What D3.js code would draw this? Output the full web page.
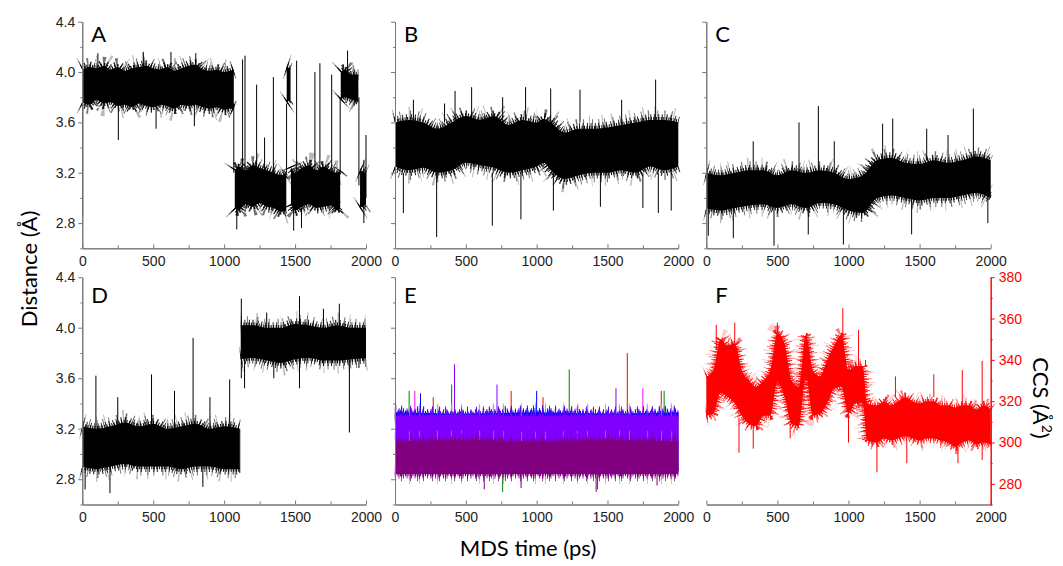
<!DOCTYPE html>
<html>
<head>
<meta charset="utf-8">
<script src="https://cdn.jsdelivr.net/npm/d3@7"></script>
<style>
  body { margin: 0; background: #fff; }
  .axis path, .axis line { stroke: #777; }
  .axis text { fill: #222; font-size: 14px; font-family: "Liberation Sans", Arial, sans-serif; }
  .axis.red path, .axis.red line { stroke: #ff0000; }
  .axis.red text { fill: #ff0000; }
  .title { font-family: Lato, "Open Sans", sans-serif; font-size: 22px; fill: #000; }
</style>
</head>
<body>
<svg id="chart" width="1063" height="566"></svg>
<script>
// ticks
const timeTicks = [0, 500, 1000, 1500, 2000];
const timeMinor = [250, 750, 1250, 1750];
const distTicks = [2.8, 3.2, 3.6, 4.0, 4.4];
const distMinor = [2.6, 3.0, 3.4, 3.8, 4.2];
const ccsTicks = [280, 300, 320, 340, 360, 380];
const ccsMinor = [270, 290, 310, 330, 350, 370];

// bands of the traces: [time ps, low, high] of the dense core, null = gap
const bandA = [
  [0, 3.76, 4.02], [50, 3.74, 4.04], [100, 3.78, 4.03], [150, 3.75, 4.05], [200, 3.76, 4.02],
  [250, 3.73, 4.04], [300, 3.74, 4.01], [350, 3.72, 4.03], [400, 3.75, 4.04], [450, 3.73, 4.05],
  [500, 3.72, 4.03], [550, 3.74, 4.02], [600, 3.73, 4.04], [650, 3.71, 4.01], [700, 3.74, 4.03],
  [750, 3.73, 4.05], [800, 3.74, 4.06], [850, 3.72, 4.02], [900, 3.71, 4.01], [950, 3.72, 4.02],
  [1000, 3.70, 4.00], [1040, 3.71, 4.01], [1068, 3.70, 4.02], [1071, null, null],
  [1075, 2.92, 3.22], [1100, 2.90, 3.25], [1150, 2.95, 3.22], [1200, 2.93, 3.26], [1250, 2.96, 3.24],
  [1300, 2.93, 3.22], [1350, 2.92, 3.20], [1400, 2.89, 3.18], [1438, 2.90, 3.20], [1439, null, null],
  [1441, 3.76, 4.04], [1468, 3.78, 4.03], [1469, null, null],
  [1471, 2.95, 3.25], [1500, 2.90, 3.20], [1550, 2.93, 3.24], [1600, 2.95, 3.26], [1650, 2.92, 3.22],
  [1700, 2.93, 3.25], [1750, 2.94, 3.22], [1800, 2.90, 3.20], [1818, 2.92, 3.22], [1820, null, null],
  [1822, 3.78, 4.00], [1850, 3.80, 4.02], [1900, 3.78, 3.98], [1946, 3.76, 3.98], [1950, null, null],
  [1958, 2.92, 3.22], [2000, 2.95, 3.20]
];
const spikesA = [
  [2, 2.85, 3.8], [254, 3.46, 3.75], [520, 3.55, 3.75], [790, 3.57, 3.75], [110, 4.0, 4.15],
  [430, 4.0, 4.16], [625, 4.0, 4.16], [800, 4.0, 4.15], [1068, 3.2, 3.75], [1089, 2.75, 2.95],
  [1130, 3.2, 4.1], [1147, 3.2, 4.13], [1229, 3.2, 3.9], [1285, 3.2, 3.48], [1347, 3.2, 3.96],
  [1440, 3.2, 3.75], [1490, 2.74, 2.92], [1511, 3.2, 4.09], [1545, 2.76, 2.92], [1640, 3.2, 4.0],
  [1675, 3.2, 4.07], [1758, 3.2, 3.98], [1818, 3.2, 3.8], [1870, 4.0, 4.17], [1950, 3.1, 3.8],
  [1985, 2.8, 3.3], [2000, 3.0, 3.5]
];

const bandB = [
  [0, 3.25, 3.60], [100, 3.22, 3.62], [200, 3.24, 3.60], [300, 3.20, 3.55], [400, 3.22, 3.60],
  [500, 3.28, 3.65], [600, 3.26, 3.62], [700, 3.24, 3.65], [800, 3.20, 3.58], [900, 3.22, 3.62],
  [1000, 3.25, 3.60], [1050, 3.28, 3.63], [1100, 3.22, 3.60], [1200, 3.15, 3.52], [1300, 3.18, 3.55],
  [1400, 3.20, 3.55], [1500, 3.20, 3.56], [1600, 3.22, 3.58], [1700, 3.20, 3.60], [1800, 3.25, 3.62],
  [1900, 3.22, 3.62], [2000, 3.25, 3.60]
];
const spikesB = [
  [294, 2.69, 3.2], [1840, 3.6, 3.94], [922, 3.6, 3.88], [541, 3.6, 3.88], [424, 3.6, 3.85],
  [1099, 3.6, 3.87], [1306, 3.6, 3.86], [687, 2.78, 3.2], [889, 2.83, 3.2], [1118, 2.9, 3.2],
  [1859, 2.88, 3.2], [59, 2.88, 3.2], [130, 3.6, 3.78], [1600, 3.6, 3.78], [1750, 2.92, 3.2],
  [1950, 2.9, 3.2], [760, 3.6, 3.8], [1450, 2.93, 3.2], [350, 3.6, 3.75]
];

const bandC = [
  [0, 2.92, 3.20], [100, 2.90, 3.18], [200, 2.92, 3.20], [300, 2.94, 3.22], [400, 2.95, 3.22],
  [500, 2.92, 3.18], [600, 2.95, 3.22], [700, 2.92, 3.20], [800, 2.96, 3.22], [900, 2.95, 3.20],
  [1000, 2.90, 3.15], [1100, 2.88, 3.18], [1200, 3.00, 3.30], [1300, 3.02, 3.32], [1400, 3.00, 3.28],
  [1500, 2.98, 3.27], [1600, 3.00, 3.30], [1700, 3.00, 3.28], [1800, 3.02, 3.30], [1900, 3.04, 3.33],
  [2000, 3.00, 3.30]
];
const spikesC = [
  [1311, 3.3, 3.63], [1240, 3.3, 3.59], [652, 3.2, 3.6], [788, 3.2, 3.73], [1878, 3.3, 3.71],
  [476, 2.62, 2.95], [964, 2.63, 2.95], [717, 2.71, 2.95], [190, 2.68, 2.95], [1444, 2.71, 3.0],
  [14, 2.7, 2.95], [1550, 3.3, 3.55], [1700, 3.3, 3.5], [330, 3.2, 3.45], [900, 3.2, 3.45],
  [1980, 2.8, 3.0]
];

const bandD = [
  [0, 2.90, 3.22], [100, 2.88, 3.20], [200, 2.90, 3.22], [300, 2.92, 3.25], [400, 2.90, 3.22],
  [500, 2.90, 3.24], [600, 2.90, 3.20], [700, 2.88, 3.22], [800, 2.90, 3.24], [900, 2.90, 3.20],
  [1000, 2.88, 3.22], [1108, 2.88, 3.20], [1112, null, null],
  [1118, 3.75, 4.02], [1200, 3.76, 4.02], [1300, 3.74, 4.00], [1400, 3.72, 4.00], [1500, 3.75, 4.03],
  [1600, 3.76, 4.02], [1700, 3.74, 4.00], [1800, 3.74, 4.02], [1900, 3.75, 4.00], [2000, 3.76, 4.00]
];
const spikesD = [
  [781, 3.2, 3.92], [96, 3.2, 3.62], [1039, 3.2, 3.59], [488, 3.2, 3.63], [1121, 3.6, 4.23],
  [1883, 3.17, 3.75], [1531, 3.52, 4.25], [1144, 3.52, 3.75], [1812, 4.0, 4.19], [195, 2.69, 2.9],
  [1110, 2.85, 3.2], [250, 3.2, 3.45], [650, 3.2, 3.5], [900, 3.2, 3.45], [20, 2.72, 2.9],
  [850, 2.74, 2.9], [1300, 4.0, 4.12], [1700, 4.0, 4.15], [1350, 3.6, 3.75], [1950, 3.68, 3.75]
];

// panel E: six overlaid traces
const bandERed     = [[0, 2.88, 3.30], [500, 2.87, 3.31], [1000, 2.88, 3.30], [1500, 2.87, 3.31], [2000, 2.88, 3.30]];
const bandEGreen   = [[0, 2.88, 3.31], [500, 2.88, 3.30], [1000, 2.87, 3.31], [1500, 2.88, 3.30], [2000, 2.87, 3.31]];
const bandEMagenta = [[0, 2.87, 3.32], [500, 2.88, 3.31], [1000, 2.87, 3.32], [1500, 2.88, 3.31], [2000, 2.87, 3.32]];
const bandEBlue    = [[0, 2.88, 3.33], [500, 2.87, 3.32], [1000, 2.88, 3.33], [1500, 2.87, 3.32], [2000, 2.88, 3.33]];
const bandEViolet  = [[0, 2.90, 3.30], [500, 2.90, 3.31], [1000, 2.90, 3.30], [1500, 2.90, 3.31], [2000, 2.90, 3.30]];
const bandEPurple  = [[0, 2.84, 3.10], [500, 2.84, 3.11], [1000, 2.84, 3.10], [1500, 2.84, 3.11], [2000, 2.84, 3.10]];
const spikesERed     = [[1640, 3.3, 3.8], [1880, 3.3, 3.5], [820, 3.3, 3.5], [270, 3.3, 3.45], [1045, 3.3, 3.45]];
const spikesEGreen   = [[1230, 3.3, 3.67], [400, 3.3, 3.55], [100, 3.3, 3.5], [1900, 3.3, 3.5], [760, 2.7, 2.85]];
const spikesEMagenta = [[140, 3.3, 3.5], [1750, 3.3, 3.52]];
const spikesEBlue    = [[420, 3.3, 3.45], [1000, 3.3, 3.5], [180, 3.3, 3.48]];
const spikesEViolet  = [[420, 3.3, 3.71], [1430, 2.72, 2.85], [720, 3.3, 3.55], [1560, 3.3, 3.52]];
const spikesEPurple  = [[1420, 2.7, 2.85], [630, 2.72, 2.85], [890, 2.73, 2.85], [1850, 2.75, 2.85]];

// panel F: CCS (Å²)
const bandF = [
  [0, 313, 332], [50, 314, 335], [100, 324, 350], [150, 322, 347], [200, 319, 348], [250, 313, 335],
  [300, 309, 330], [350, 308, 327], [400, 313, 330], [450, 313, 335], [500, 329, 353], [550, 322, 348],
  [600, 309, 330], [650, 308, 327], [700, 332, 352], [750, 313, 335], [800, 314, 332], [850, 319, 340],
  [900, 326, 347], [950, 327, 352], [1000, 314, 335], [1050, 319, 337], [1100, 319, 337], [1130, 301, 319],
  [1200, 300, 318], [1250, 302, 320], [1300, 301, 318], [1350, 302, 320], [1400, 303, 322], [1450, 302, 320],
  [1500, 301, 319], [1550, 302, 320], [1600, 302, 320], [1650, 301, 318], [1700, 300, 318], [1750, 298, 317],
  [1800, 300, 318], [1850, 301, 318], [1900, 299, 316], [1950, 300, 318], [2000, 299, 316]
];
const spikesF = [
  [1200, 285.6, 302], [230, 295, 312], [960, 350, 365], [1070, 337, 354.5], [200, 348, 358],
  [70, 345, 357], [500, 353, 358], [1410, 290, 302], [1770, 290, 300], [1940, 318, 339.5],
  [1940, 291.6, 300], [330, 297, 309], [1330, 322, 332], [1600, 322, 333], [1800, 318, 335],
  [1000, 300, 314], [590, 302, 309], [1120, 337, 340]
];

// layout
const cols = [{ x0: 82.3, x1: 366 }, { x0: 395, x1: 678.3 }, { x0: 706.3, x1: 990.7 }];
const rows = [{ y0: 21.7, y1: 248.3, letterY: 42 }, { y0: 277.2, y1: 504.5, letterY: 303 }];

const black = ['#000', '#444', '#8a8a8a'];
const red = ['#ff0000', '#ff5050', '#ffa8a8'];

const panels = [
  { letter: 'A', col: 0, row: 0, labels: true,  hair: 0.9, traces: [{ band: bandA, spikes: spikesA, tones: black }] },
  { letter: 'B', col: 1, row: 0, labels: false, hair: 0.95, traces: [{ band: bandB, spikes: spikesB, tones: black }] },
  { letter: 'C', col: 2, row: 0, labels: false, hair: 0.9, traces: [{ band: bandC, spikes: spikesC, tones: black }] },
  { letter: 'D', col: 0, row: 1, labels: true,  hair: 0.9, traces: [{ band: bandD, spikes: spikesD, tones: black }] },
  { letter: 'E', col: 1, row: 1, labels: false, hair: 0.7, traces: [
      { band: bandERed, spikes: spikesERed, tones: ['#ff0000', '#ff0000', '#ff9090'] },
      { band: bandEGreen, spikes: spikesEGreen, tones: ['#008000', '#008000', '#80c080'] },
      { band: bandEMagenta, spikes: spikesEMagenta, tones: ['#ff00ff', '#ff00ff', '#ff90ff'] },
      { band: bandEBlue, spikes: spikesEBlue, tones: ['#0000ff', '#0000c0', '#9090ff'] },
      { band: bandEViolet, spikes: spikesEViolet, tones: ['#8000ff', '#8000ff', '#c090ff'] },
      { band: bandEPurple, spikes: spikesEPurple, tones: ['#800080', '#800080', '#c090c0'] }
  ] },
  { letter: 'F', col: 2, row: 1, ccs: true, hair: 0.75, traces: [{ band: bandF, spikes: spikesF, tones: red }] }
];

// fine hairs along the band edges, drawn with dashed thick strokes
const hairLayers = [
  { w: 6,  dash: '1 1.5',         tone: 0, op: 1 },
  { w: 12, dash: '1 2.5 1 3.5',   tone: 0, op: 0.85 },
  { w: 20, dash: '1 5 1 8 1 6',   tone: 1, op: 0.75 },
  { w: 28, dash: '1 13 1 9 1 17', tone: 2, op: 0.6 }
];

const svg = d3.select('#chart');

function drawTrace(g, x, y, tr, hair) {
  const ok = d => d[1] !== null;
  const curve = d3.curveMonotoneX;
  const top = d3.line().defined(ok).curve(curve).x(d => x(d[0])).y(d => y(d[2]));
  const bot = d3.line().defined(ok).curve(curve).x(d => x(d[0])).y(d => y(d[1]));
  hairLayers.slice().reverse().forEach(h => {
    [top, bot].forEach(ln => {
      g.append('path')
        .attr('d', ln(tr.band))
        .attr('fill', 'none')
        .attr('stroke', tr.tones[h.tone])
        .attr('stroke-width', h.w * hair)
        .attr('stroke-dasharray', h.dash)
        .attr('stroke-linejoin', 'bevel')
        .attr('opacity', h.op);
    });
  });
  const area = d3.area().defined(ok).curve(curve).x(d => x(d[0])).y0(d => y(d[1])).y1(d => y(d[2]));
  g.append('path').attr('d', area(tr.band)).attr('fill', tr.tones[0]);
  g.selectAll(null)
    .data(tr.spikes)
    .enter().append('line')
    .attr('x1', d => x(d[0])).attr('x2', d => x(d[0]))
    .attr('y1', d => y(d[1])).attr('y2', d => y(d[2]))
    .attr('stroke', tr.tones[0])
    .attr('stroke-width', 1);
}

panels.forEach(p => {
  const c = cols[p.col], r = rows[p.row];
  const x = d3.scaleLinear().domain([0, 2000]).range([c.x0, c.x1]);
  const y = p.ccs
    ? d3.scaleLinear().domain([270, 380]).range([r.y1, r.y0])
    : d3.scaleLinear().domain([2.6, 4.4]).range([r.y1, r.y0]);
  const g = svg.append('g');

  p.traces.forEach(tr => drawTrace(g, x, y, tr, p.hair));

  // x axis
  g.append('g').attr('class', 'axis').attr('transform', `translate(0,${r.y1})`)
    .call(d3.axisBottom(x).tickValues(timeTicks).tickSize(-4).tickSizeOuter(0).tickPadding(8)
      .tickFormat(d3.format('d')));
  g.append('g').attr('class', 'axis').attr('transform', `translate(0,${r.y1})`)
    .call(d3.axisBottom(x).tickValues(timeMinor).tickSize(-3).tickSizeOuter(0).tickFormat(''));

  if (p.ccs) {
    g.append('g').attr('class', 'axis red').attr('transform', `translate(${c.x1},0)`)
      .call(d3.axisRight(y).tickValues(ccsTicks).tickSize(4).tickSizeOuter(0).tickPadding(4));
    g.append('g').attr('class', 'axis red').attr('transform', `translate(${c.x1},0)`)
      .call(d3.axisRight(y).tickValues(ccsMinor).tickSize(2).tickSizeOuter(0).tickFormat(''));
  } else {
    g.append('g').attr('class', 'axis').attr('transform', `translate(${c.x0},0)`)
      .call(d3.axisLeft(y).tickValues(distTicks).tickSize(4).tickSizeOuter(0).tickPadding(3)
        .tickFormat(p.labels ? d3.format('.1f') : ''));
    g.append('g').attr('class', 'axis').attr('transform', `translate(${c.x0},0)`)
      .call(d3.axisLeft(y).tickValues(distMinor).tickSize(2).tickSizeOuter(0).tickFormat(''));
  }

  g.append('text').attr('class', 'title')
    .attr('x', c.x0 + 9).attr('y', r.letterY)
    .text(p.letter);
});

// axis titles
svg.append('text').attr('class', 'title')
  .attr('text-anchor', 'middle')
  .attr('transform', 'translate(37,269) rotate(-90)')
  .text('Distance (Å)');

svg.append('text').attr('class', 'title')
  .attr('text-anchor', 'middle')
  .attr('x', 528).attr('y', 556)
  .text('MDS time (ps)');

const ccsTitle = svg.append('text').attr('class', 'title')
  .attr('text-anchor', 'middle')
  .attr('transform', 'translate(1033,398) rotate(90)');
ccsTitle.append('tspan').text('CCS (Å');
ccsTitle.append('tspan').attr('dy', -9).style('font-size', '14px').text('2');
ccsTitle.append('tspan').attr('dy', 9).text(')');
</script>
</body>
</html>
